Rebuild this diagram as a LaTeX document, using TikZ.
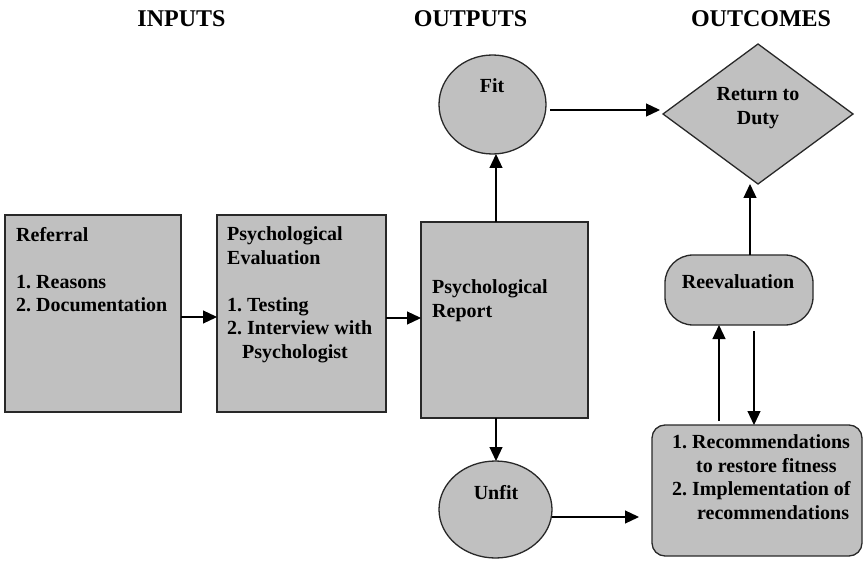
\documentclass[tikz,border=0pt]{standalone}
\usepackage{fontspec}
\setmainfont{Liberation Serif}
\usetikzlibrary{arrows.meta,shapes.geometric}
\definecolor{boxgray}{RGB}{192,192,192}
\definecolor{edgegray}{RGB}{40,40,40}
\frenchspacing
\begin{document}
\begin{tikzpicture}[x=1pt,y=-1pt,
  shapebox/.style={draw=edgegray,line width=1.3pt,fill=boxgray,inner sep=0pt,outer sep=0pt},
  arr/.style={line width=1.2pt,-{Triangle[length=14pt,width=13pt]}},
  hdr/.style={font=\fontsize{24}{28}\selectfont\bfseries,anchor=base,inner sep=0pt},
  txt/.style={font=\fontsize{20}{23.5}\selectfont\bfseries,align=left,inner sep=0pt},
  ctxt/.style={font=\fontsize{20}{23.5}\selectfont\bfseries,align=center,inner sep=0pt}]
\useasboundingbox (0,0) rectangle (864,561);

% column headings
\node[hdr] (hin)  at (181.5,27) {INPUTS};
\node[hdr] (hout) at (470.5,27) {OUTPUTS};
\node[hdr] (hoc)  at (761,27)   {OUTCOMES};

% shapes
\node[shapebox,rectangle,minimum width=176pt,minimum height=197pt] (ref)  at (93,313.5) {};
\node[shapebox,rectangle,minimum width=169pt,minimum height=197pt] (eval) at (301.5,313.5) {};
\node[shapebox,rectangle,minimum width=167pt,minimum height=196pt] (rep)  at (504.5,320) {};
\node[shapebox,ellipse,minimum width=107pt,minimum height=99pt] (fit)   at (492.5,104.5) {};
\node[shapebox,ellipse,minimum width=113pt,minimum height=97pt] (unfit) at (495.5,509.5) {};
\node[shapebox,diamond,minimum width=190pt,minimum height=140pt] (ret) at (758,114) {};
\node[shapebox,rectangle,rounded corners=28pt,minimum width=148pt,minimum height=70pt] (reev) at (739,290) {};
\node[shapebox,rectangle,rounded corners=13pt,minimum width=210pt,minimum height=131pt] (recs) at (757,490.5) {};

% texts
\node[txt,anchor=north west] (reft) at (16,227.2)
  {Referral\\[23.5pt]1. Reasons\\2. Documentation};
\node[txt,anchor=north west] (evalt) at (227,226.5)
  {Psychological\\Evaluation\\[23.5pt]1. Testing\\2. Interview with\\\hspace*{15pt}Psychologist};
\node[txt,anchor=north west] (rept) at (432,279.5) {Psychological\\Report};
\node[ctxt,anchor=base] (fitt) at (492,93) {Fit};
\node[ctxt,anchor=base] (unfitt) at (496,499) {Unfit};
\node[ctxt,anchor=base] (reevt) at (738,288) {Reevaluation};
\node[ctxt,anchor=north] (rett) at (758,87.5) {Return to\\Duty};
\node[txt,anchor=north west] (recst) at (672,434.5)
  {1. Recommendations\\\hspace*{24pt}to restore fitness\\2. Implementation of\\\hspace*{25pt}recommendations};

% connectors
\draw[arr] (ref.east |- 0,317) -- (eval.west |- 0,317);
\draw[arr] (eval.east |- 0,318) -- (rep.west |- 0,318);
\draw[arr] (496,0 |- rep.north) -- (496,0 |- fit.south);
\draw[arr] (496,0 |- rep.south) -- (496,0 |- unfit.north);
\draw[arr,shorten <=4pt,shorten >=3pt] (fit.east |- 0,110) -- (ret.west |- 0,110);
\draw[arr,shorten >=13pt] (unfit.east |- 0,517) -- (recs.west |- 0,517);
\draw[arr] (750,0 |- reev.north) -- (750,0 |- ret.south);
\draw[arr,shorten <=4pt] (719,0 |- recs.north) -- (719,0 |- reev.south);
\draw[arr,shorten <=6pt] (754,0 |- reev.south) -- (754,0 |- recs.north);
\end{tikzpicture}
\end{document}
